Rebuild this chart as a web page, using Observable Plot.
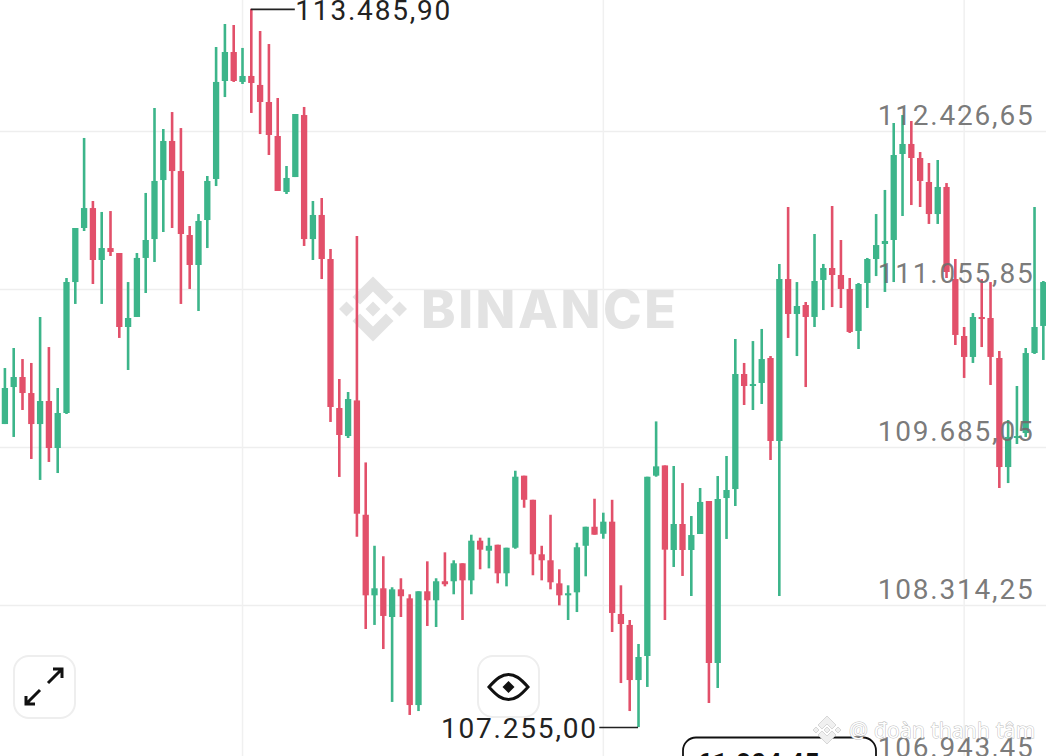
<!DOCTYPE html>
<html><head><meta charset="utf-8">
<style>html,body{margin:0;padding:0;background:#fff;overflow:hidden}svg{display:block}</style>
<script src="https://cdn.jsdelivr.net/npm/d3@7"></script>
<script src="https://cdn.jsdelivr.net/npm/@observablehq/plot@0.6"></script>
</head><body><div id="chart"></div>
<script>
const highs = [110370,110544,110448,110414,110813,110552,110197,111151,111585,112366,111819,111724,111732,111368,111116,111368,111889,112626,112444,112591,112452,111602,111706,112036,113155,113355,113346,113147,113485.9,113294,113181,112713,112123,112574,112635,111819,111845,111403,110275,110162,111516,109551,108828,108737,108468,108546,108407,108433,108693,108546,108771,108702,108676,108924,108898,108898,108837,108811,109479,109436,109227,108828,109097,108624,108485,108854,108993,109236,109115,109227,108485,108184,107976,109427,109907,109525,109520,109372,109086,109329,109216,109433,109607,110622,110414,110604,110709,110474,111273,111767,111116,110943,111533,111273,111776,111481,111151,111108,111325,111706,111915,112496,112565,112513,112244,112149,112175,111975,111316,110726,110847,111142,111116,110518,109919,110214,110544,111767,111125];
const lows = [109884,109772,110006,109581,109399,109555,109459,109971,110926,111559,111099,110926,111342,110631,110353,110813,111021,111290,111550,111585,110926,111056,110865,111411,111949,112721,112852,112834,112583,112400,112218,111906,111880,112027,111429,111307,111142,109902,109425,109763,108906,108106,108141,107932,107473,108210,107360,107394,108132,108123,108476,108407,108184,108407,108624,108632,108502,108476,108802,109158,108572,108528,108450,108311,108184,108253,108563,108924,108889,108080,107637,107394,107255,107603,109427,108184,108644,108566,108392,108930,107464,107594,108887,109173,110049,110006,110058,109572,108392,110631,110474,110205,110726,110873,110899,110891,110674,110535,110891,111168,111030,111116,111689,111784,111767,111620,111620,111151,110570,110284,110414,110552,110223,109329,109372,109711,109772,110492,110440];
const opens = [109884,110205,110292,110153,109884,110084,109676,109980,111116,111585,111758,111307,111411,111368,110726,110813,111325,111489,112001,112340,112079,111524,111264,111654,112010,112860,113112,112852,112904,112826,112678,112383,111897,112027,112565,111489,111698,111316,110023,109780,110089,109097,108398,108459,108210,108450,108372,107446,108433,108355,108520,108520,108676,108528,108872,108785,108837,108589,108811,109436,109227,108754,108702,108502,108398,108424,108828,108993,108932,109037,108236,108141,107663,107872,109436,109525,108791,109017,108791,108930,109216,107811,109242,109320,110318,110214,110240,110457,109737,111142,110839,110917,110813,111134,111238,111177,111056,110691,111108,111316,111446,111481,112227,112314,112192,111984,111706,111941,111142,110648,110466,110813,110804,110457,109511,109763,109806,110500,110735];
const closes = [110197,110292,110153,109884,110084,109676,109980,111116,111585,111758,111307,111411,111377,110726,110804,111325,111481,111993,112340,112079,111533,111264,111646,111993,112852,113112,112860,112904,112843,112678,112392,111906,112019,112574,111489,111698,111316,110032,109789,110101,109106,108398,108459,108219,108450,108390,107446,108433,108355,108520,108494,108676,108528,108872,108794,108828,108589,108811,109427,109227,108754,108702,108511,108398,108416,108815,108993,108924,109037,108245,108149,107663,107863,109427,109517,108794,109017,108791,108921,109208,107811,109234,109312,110318,110214,110231,110448,109737,111142,110839,110908,110813,111125,111238,111177,111056,110683,111099,111316,111437,111472,112218,112314,112192,111993,111706,111941,111203,110657,110466,110813,110795,110466,109511,109772,109780,110500,110726,111116];
const gridPrices = [112426.65,111055.85,109685.05,108314.25,106943.45];
const gridIndices = [27,68,109];
const maxLabel = {i:28, price:113485.90, end:33};
const minLabel = {i:72, price:107255.00, end:67.6};

const candles = highs.map((h,i)=>({i,high:h,low:lows[i],open:opens[i],close:closes[i]}));
const up="#3cb58a", down="#e2506a";
const col=d=>d.close>=d.open?up:down;
const fmt=d3.format(",.2f");
const vn=v=>fmt(v).replace(/,/g,"#").replace(".",",").replace(/#/g,".");

const g=(html)=>()=>{const e=document.createElementNS("http://www.w3.org/2000/svg","g");e.setAttribute("text-anchor","start");e.innerHTML=html;return e;};
const watermark=g(`<g fill="#e3e3e3" transform="translate(373,309)">
<path d="M0,-32.5L20.5,-12L13,-4.5L0,-17.5L-13,-4.5L-20.5,-12Z"/>
<path d="M0,32.5L20.5,12L13,4.5L0,17.5L-13,4.5L-20.5,12Z"/>
<path d="M0,-7.5L7.5,0L0,7.5L-7.5,0Z"/><path d="M-26.5,-7.5L-19,0L-26.5,7.5L-34,0Z"/><path d="M26.5,-7.5L34,0L26.5,7.5L19,0Z"/></g>
<text x="421" y="328" textLength="255" lengthAdjust="spacing" style="font:800 52px Inter,sans-serif;letter-spacing:0" fill="#e3e3e3">BINANCE</text>`);
const overlay=g(`
<rect x="14" y="656" width="61" height="62" rx="15" fill="#fff" fill-opacity=".6" stroke="#eeeeee" stroke-width="2"/>
<g fill="none" stroke="#111" stroke-width="3"><path d="M48,683L62,669M53,669H62V678M40,690L26,704M26,696V704H35"/></g>
<rect x="478" y="656" width="61" height="61" rx="15" fill="#fff" fill-opacity=".6" stroke="#eeeeee" stroke-width="2"/>
<path d="M489,687C497,678 502,674.5 508.5,674.5C515,674.5 520,678 528,687C520,696 515,699.5 508.5,699.5C502,699.5 497,696 489,687Z" fill="none" stroke="#111" stroke-width="3"/>
<path d="M508.5,681L514.5,687L508.5,693L502.5,687Z" fill="#111"/>
<rect x="683" y="737.5" width="193" height="50" rx="13" fill="#fff" stroke="#111" stroke-width="1.8"/>
<text x="697" y="772" style="font:700 26px Roboto,sans-serif;letter-spacing:.5px" fill="#111">61.804,45 ↓</text>
`);
const stamp=g(`<g transform="translate(827,730)" fill="#f0f0f0" stroke="#c9c9c9" stroke-width=".7">
<path d="M0,-14L9,-5L5,-1L0,-6L-5,-1L-9,-5Z"/><path d="M0,14L9,5L5,1L0,6L-5,1L-9,5Z"/><path d="M0,-3L3,0L0,3L-3,0Z"/><path d="M-11,-3L-8,0L-11,3L-14,0Z"/><path d="M11,-3L14,0L11,3L8,0Z"/></g>
<text x="849" y="738" textLength="188" lengthAdjust="spacing" style="font:400 21px 'Open Sans',sans-serif;paint-order:stroke" fill="#fff" stroke="#bdbdbd" stroke-width="1">@ đoàn thanh tâm</text>`);

const chart=Plot.plot({
  width:1046,height:756,margin:0,
  style:{fontFamily:"Roboto,sans-serif",letterSpacing:"1.8px",background:"#fff"},
  x:{type:"linear",domain:[-0.5,118.36],axis:null},
  y:{type:"linear",domain:[107004,113563],axis:null},
  marks:[
    Plot.ruleY(gridPrices,{stroke:"#eeeeee",strokeWidth:1.5}),
    Plot.ruleX(gridIndices,{stroke:"#f0f0f0",strokeWidth:1.5}),
    watermark,
    Plot.ruleX(candles,{x:"i",y1:"low",y2:"high",stroke:col,strokeWidth:2.6}),
    Plot.ruleX(candles,{x:"i",y1:d=>Math.min(d.open,d.close),y2:d=>Math.max(d.open,d.close),stroke:col,strokeWidth:6.3}),
    overlay,
    Plot.text(gridPrices,{y:d=>d,text:vn,frameAnchor:"right",dx:-12,dy:-15,textAnchor:"end",fontSize:28,fill:"#6e6e6e",fillOpacity:.92}),
    Plot.ruleY([maxLabel],{y:"price",x1:"i",x2:"end",stroke:"#222",strokeWidth:1.6}),
    Plot.text([maxLabel],{x:"end",y:"price",text:d=>vn(d.price),textAnchor:"start",dy:2,fontSize:28,fill:"#222"}),
    Plot.ruleY([minLabel],{y:"price",x1:"i",x2:"end",stroke:"#222",strokeWidth:1.6}),
    Plot.text([minLabel],{x:"end",y:"price",text:d=>vn(d.price),textAnchor:"end",dx:-2,dy:1,fontSize:28,fill:"#222"}),
    stamp
  ]
});
document.getElementById("chart").append(chart);
</script></body></html>
